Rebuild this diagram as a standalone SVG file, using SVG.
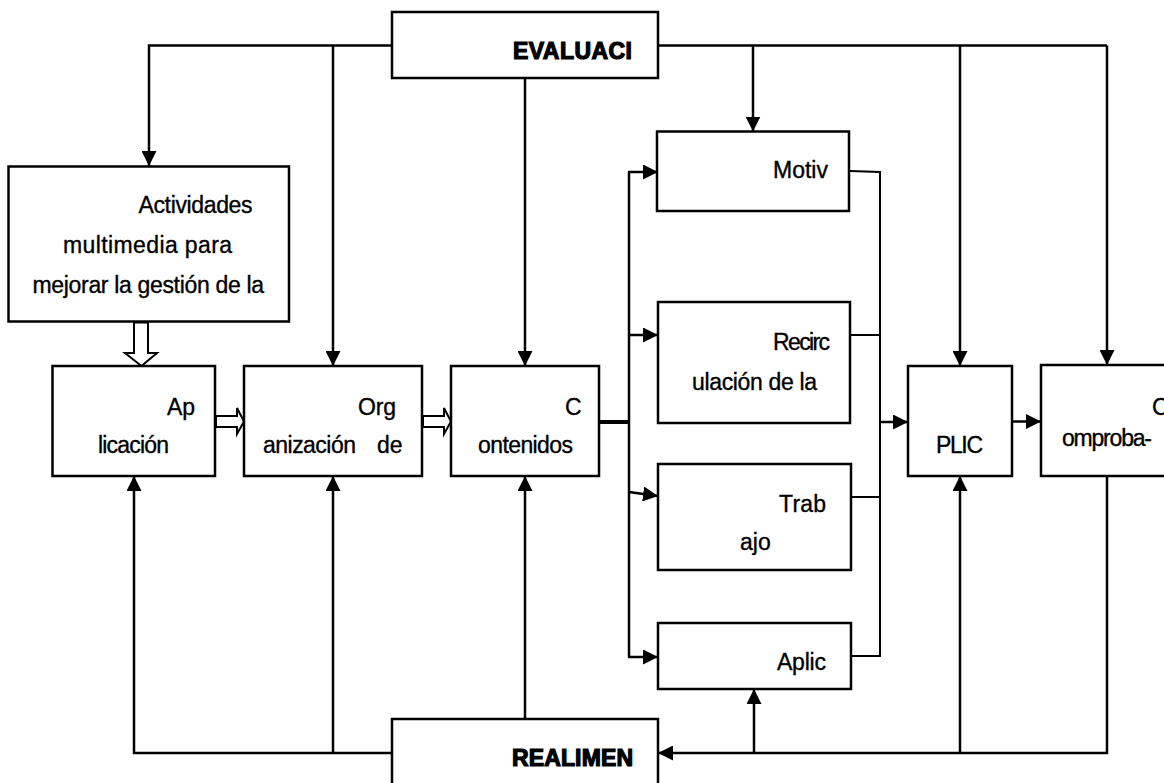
<svg xmlns="http://www.w3.org/2000/svg" width="1164" height="783" viewBox="0 0 1164 783">
<style>
.box{fill:#fff;stroke:#000;stroke-width:2.5}
.ln{fill:none;stroke:#000;stroke-width:2.5}
.thin{fill:none;stroke:#000;stroke-width:2}
.hol{fill:#fff;stroke:#000;stroke-width:2}
.t{font-family:"Liberation Sans",Arial,sans-serif;font-size:23px;fill:#000;stroke:#000;stroke-width:0.35}
.h{font-family:"Liberation Sans",Arial,sans-serif;font-size:23px;font-weight:bold;fill:#000;stroke:#000;stroke-width:1.2}
</style>
<defs>
<marker id="ah" viewBox="0 0 15 15" refX="15" refY="7.5" markerWidth="15" markerHeight="15" orient="auto" markerUnits="userSpaceOnUse">
<path d="M0,0 L15,7.5 L0,15 z" fill="#000"/>
</marker>
</defs>
<rect width="1164" height="783" fill="#fff"/>
<g id="connectors">
<polyline class="ln" points="392,45.5 149,45.5 149,166" marker-end="url(#ah)"/>
<line class="ln" x1="333" y1="45.5" x2="333" y2="366" marker-end="url(#ah)"/>
<line class="ln" x1="525" y1="78" x2="525" y2="366" marker-end="url(#ah)"/>
<line class="ln" x1="658" y1="45.5" x2="1107" y2="45.5"/>
<line class="ln" x1="1107" y1="45.5" x2="1107" y2="365" marker-end="url(#ah)"/>
<line class="ln" x1="753" y1="45.5" x2="753" y2="131.5" marker-end="url(#ah)"/>
<line class="ln" x1="960" y1="45.5" x2="960" y2="366" marker-end="url(#ah)"/>
<polygon class="hol" points="134,322.5 148,322.5 148,353 157,353 141.5,366 125,353 134,353"/>
<polygon class="hol" points="216,416 237,416 237,408 244,421.5 237,434 237,427 216,427"/>
<polygon class="hol" points="423,416 444,416 444,408 451,421.5 444,434 444,427 423,427"/>
<line x1="599" y1="422" x2="629" y2="422" stroke="#000" stroke-width="4"/>
<line class="ln" x1="629" y1="172" x2="629" y2="657"/>
<line class="ln" x1="628" y1="172" x2="658" y2="172" marker-end="url(#ah)"/>
<line class="ln" x1="628" y1="335" x2="658" y2="335" marker-end="url(#ah)"/>
<line class="ln" x1="629" y1="492" x2="658" y2="496" marker-end="url(#ah)"/>
<line class="ln" x1="628" y1="657" x2="658" y2="657" marker-end="url(#ah)"/>
<polyline class="thin" points="850,171 880,172 880,656 851,656"/>
<line class="thin" x1="851" y1="335" x2="880" y2="335"/>
<line class="thin" x1="851" y1="497" x2="880" y2="497"/>
<line class="ln" x1="880" y1="422" x2="908" y2="422" marker-end="url(#ah)"/>
<line class="ln" x1="1012" y1="421.5" x2="1041" y2="421.5" marker-end="url(#ah)"/>
<polyline class="ln" points="392,753 134,753 134,476" marker-end="url(#ah)"/>
<line class="ln" x1="333" y1="753" x2="333" y2="476" marker-end="url(#ah)"/>
<line class="ln" x1="525" y1="719" x2="525" y2="476" marker-end="url(#ah)"/>
<polyline class="ln" points="1107,476 1107,753 658,753" marker-end="url(#ah)"/>
<line class="ln" x1="960" y1="753" x2="960" y2="476" marker-end="url(#ah)"/>
<line class="ln" x1="754" y1="753" x2="754" y2="689" marker-end="url(#ah)"/>
</g>
<g id="evaluacion">
<rect class="box" x="392" y="12" width="266" height="66"/>
<text class="h" x="513" y="59" textLength="119">EVALUACI</text>
</g>
<g id="actividades">
<rect class="box" x="8.5" y="166.5" width="280.5" height="155"/>
<text class="t" x="138.5" y="213" textLength="114">Actividades</text>
<text class="t" x="63" y="253" textLength="169">multimedia para</text>
<text class="t" x="32.5" y="293" textLength="231.5">mejorar la gestión de la</text>
</g>
<g id="aplicacion">
<rect class="box" x="52.5" y="366" width="162.5" height="110"/>
<text class="t" x="167" y="415">Ap</text>
<text class="t" x="98" y="453" textLength="71">licación</text>
</g>
<g id="organizacion">
<rect class="box" x="244" y="366" width="178" height="110"/>
<text class="t" x="358" y="415" textLength="38">Org</text>
<text class="t" x="263" y="453" textLength="93">anización</text>
<text class="t" x="377" y="453">de</text>
</g>
<g id="contenidos">
<rect class="box" x="451" y="366" width="148" height="110"/>
<text class="t" x="565" y="415">C</text>
<text class="t" x="478" y="453" textLength="95">ontenidos</text>
</g>
<g id="motivacion">
<rect class="box" x="657" y="131.5" width="192" height="79.5"/>
<text class="t" x="773" y="178" textLength="55">Motiv</text>
</g>
<g id="recirculacion">
<rect class="box" x="658" y="302" width="192" height="121"/>
<text class="t" x="773" y="350" textLength="57">Recirc</text>
<text class="t" x="692" y="390" textLength="125">ulación de la</text>
</g>
<g id="trabajo">
<rect class="box" x="658" y="464" width="193" height="106"/>
<text class="t" x="779" y="512" textLength="47">Trab</text>
<text class="t" x="740" y="550">ajo</text>
</g>
<g id="aplic">
<rect class="box" x="658" y="623" width="193" height="66"/>
<text class="t" x="777" y="670" textLength="49">Aplic</text>
</g>
<g id="plic">
<rect class="box" x="908" y="366" width="104" height="110"/>
<text class="t" x="936" y="453" textLength="47">PLIC</text>
</g>
<g id="comprobacion">
<rect class="box" x="1041" y="365" width="140" height="111"/>
<text class="t" x="1152" y="415">C</text>
<text class="t" x="1062" y="446" textLength="90">omproba-</text>
</g>
<g id="realimentacion">
<rect class="box" x="392" y="719" width="266" height="80"/>
<text class="h" x="512" y="766" textLength="121">REALIMEN</text>
</g>
</svg>
